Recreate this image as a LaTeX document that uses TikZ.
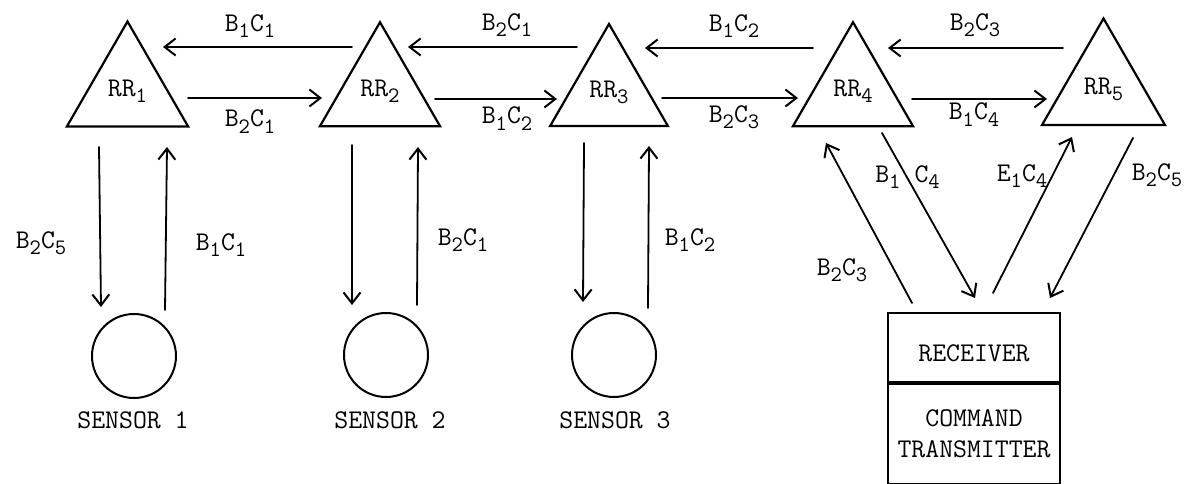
\documentclass[tikz,border=0pt]{standalone}
\usepackage{fontspec}
\usetikzlibrary{arrows.meta,positioning,shapes.geometric}
\newcommand\idx[1]{\raisebox{-6pt}{\fontsize{22}{22}\selectfont #1}}
\newcommand\bc[2]{B\idx{#1}C\idx{#2}}
\tikzset{
  relay/.style={draw,line width=2.2pt,regular polygon,regular polygon sides=3,inner sep=0pt},
  sensor/.style={draw,circle,line width=2pt,minimum size=84pt,inner sep=0pt},
  unit/.style={draw,rectangle,line width=1.8pt,minimum width=172pt,inner sep=0pt,align=center},
  link/.style={line width=1.8pt,-{Straight Barb[length=11pt,width=17pt,line width=2pt]}},
  tag/.style={anchor=base,inner sep=0pt}
}
\begin{document}
\begin{tikzpicture}[x=1pt,y=-1pt,font={\ttfamily\fontsize{27}{31}\selectfont},line cap=round]
\path[fill=white,use as bounding box] (0,0) rectangle (1190,484);
% relay chain
\node[relay,minimum size=140pt] (rr1) at (127.5,91.5) {RR\idx{1}};
\node[relay,minimum size=138.6pt] (rr2) at (380,91.5) {RR\idx{2}};
\node[relay,minimum size=136pt] (rr3) at (609,92) {RR\idx{3}};
\node[relay,minimum size=138.6pt] (rr4) at (853,91.5) {RR\idx{4}};
\node[relay,minimum size=142pt] (rr5) at (1103.5,89.5) {RR\idx{5}};
% sensors
\node[sensor] (s1) at (134,356) {};
\node[sensor] (s2) at (386,355) {};
\node[sensor] (s3) at (614,355) {};
\node[tag] (s1name) at (133,428) {SENSOR 1};
\node[tag] (s2name) at (390,428) {SENSOR 2};
\node[tag] (s3name) at (615,428) {SENSOR 3};
% ground station
\node[unit,minimum height=69pt,text height=28pt] (rx) at (974,347.5) {RECEIVER};
\node[unit,minimum height=100pt,below=0pt of rx] (tx) {COMMAND\\TRANSMITTER};
% link ends
\coordinate (w21) at (352,47); \coordinate (w12) at (163,47);
\coordinate (w32) at (577,47); \coordinate (w23) at (408,47);
\coordinate (w43) at (813,48); \coordinate (w34) at (645,48);
\coordinate (w54) at (1063,48); \coordinate (w45) at (888,48);
\coordinate (e12) at (188,98); \coordinate (e21) at (322,98);
\coordinate (e23) at (435,99); \coordinate (e32) at (557,99);
\coordinate (e34) at (662,98); \coordinate (e43) at (798,98);
\coordinate (e45) at (912,99); \coordinate (e54) at (1047,99);
\draw[link] (w21) -- (w12); \draw[link] (w32) -- (w23);
\draw[link] (w43) -- (w34); \draw[link] (w54) -- (w45);
\draw[link] (e12) -- (e21); \draw[link] (e23) -- (e32);
\draw[link] (e34) -- (e43); \draw[link] (e45) -- (e54);
\node[tag] at (250,32) {\bc{1}{1}}; \node[tag] at (507,31) {\bc{2}{1}};
\node[tag] at (734,32) {\bc{1}{2}}; \node[tag] at (975,31) {\bc{2}{3}};
\node[tag] at (250,127) {\bc{2}{1}}; \node[tag] at (507,124) {\bc{1}{2}};
\node[tag] at (734,122) {\bc{2}{3}}; \node[tag] at (974,120) {\bc{1}{4}};
% sensor links
\coordinate (d1) at (99,147); \coordinate (d1s) at (101,307);
\coordinate (u1s) at (165,310); \coordinate (u1) at (167,147);
\coordinate (d2) at (352,145); \coordinate (d2s) at (352,305);
\coordinate (u2s) at (417,305); \coordinate (u2) at (418,147);
\coordinate (d3) at (584,143); \coordinate (d3s) at (583,302);
\coordinate (u3s) at (648,308); \coordinate (u3) at (649,146);
\draw[link] (d1) -- (d1s); \draw[link] (u1s) -- (u1);
\draw[link] (d2) -- (d2s); \draw[link] (u2s) -- (u2);
\draw[link] (d3) -- (d3s); \draw[link] (u3s) -- (u3);
\node[tag] at (41,248) {\bc{2}{5}}; \node[tag] at (221,250) {\bc{1}{1}};
\node[tag] at (463,245) {\bc{2}{1}}; \node[tag] at (690,245) {\bc{1}{2}};
% station links
\coordinate (g4u) at (912,303); \coordinate (r4u) at (826,143);
\coordinate (r4d) at (882,133); \coordinate (g4d) at (975,298);
\coordinate (g5u) at (993,293); \coordinate (r5u) at (1072,137);
\coordinate (r5d) at (1133,138); \coordinate (g5d) at (1050,298);
\draw[link] (g4u) -- (r4u); \draw[link] (r4d) -- (g4d);
\draw[link] (g5u) -- (r5u); \draw[link] (r5d) -- (g5d);
\node[tag] at (842,275) {\bc{2}{3}};
\node[tag] at (907.5,182) {B\idx{1}\hspace{14pt}C\idx{4}};
\node[tag] at (1022,181) {E\idx{1}C\idx{4}};
\node[tag] at (1157,180) {\bc{2}{5}};
\end{tikzpicture}
\end{document}
